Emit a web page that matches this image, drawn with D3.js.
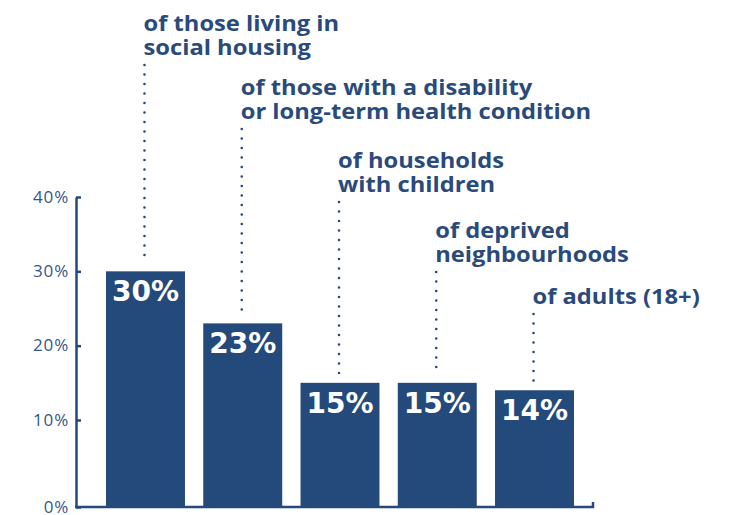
<!DOCTYPE html>
<html>
<head>
<meta charset="utf-8">
<script src="https://cdn.jsdelivr.net/npm/d3@7"></script>
<style>
  body { margin: 0; background: #fff; }
  svg { display: block; }
</style>
</head>
<body>
<script>
// data
const categories = ['social', 'disability', 'children', 'deprived', 'adults'];
const values = [30, 23, 15, 15, 14];
const labels = [
  ['of those living in', 'social housing'],
  ['of those with a disability', 'or long-term health condition'],
  ['of households', 'with children'],
  ['of deprived', 'neighbourhoods'],
  ['of adults (18+)'],
];
const yTicks = [0, 10, 20, 30, 40];

// annotation first-line baselines (layout)
const labelTop = [31, 95, 168, 238, 304];

const blue = '#244a7b';
const textBlue = '#2a4a7b';

const width = 738, height = 515;

const svg = d3.select('body').append('svg')
  .attr('width', width)
  .attr('height', height);

// set the ranges
const x = d3.scaleBand()
  .domain(categories)
  .range([106, 574])
  .paddingInner(0.188)
  .paddingOuter(0);

// the printed axis sits a little below its zero
const y = d3.scaleLinear()
  .domain([0, 10, 40])
  .range([507, 420, 197]);

// bars
svg.selectAll('rect.bar')
  .data(values)
  .enter().append('rect')
  .attr('class', 'bar')
  .attr('x', (d, i) => x(categories[i]))
  .attr('y', d => y(d))
  .attr('width', x.bandwidth())
  .attr('height', d => y(0) - y(d))
  .attr('fill', blue);

// value labels
svg.selectAll('text.val')
  .data(values)
  .enter().append('text')
  .attr('class', 'val')
  .attr('x', (d, i) => x(categories[i]) + x.bandwidth() / 2)
  .attr('y', d => y(d) + 30)
  .attr('text-anchor', 'middle')
  .style('font-family', 'DejaVu Sans')
  .style('font-weight', 'bold')
  .style('font-size', '28px')
  .style('fill', '#fff')
  .text(d => d + '%');

// annotations with dotted leaders
values.forEach((v, i) => {
  const cx = x(categories[i]) + x.bandwidth() / 2;
  const lines = labels[i];
  const lastBase = labelTop[i] + (lines.length - 1) * 24;

  const t = svg.append('text')
    .attr('transform', `translate(${cx - 2},${labelTop[i]}) scale(1.13,1)`)
    .style('font-family', 'Open Sans')
    .style('font-weight', 700)
    .style('font-size', '21px')
    .style('fill', textBlue);
  lines.forEach((l, j) => {
    t.append('tspan')
      .attr('x', 0)
      .attr('y', j * 24)
      .text(l);
  });

  svg.append('line')
    .attr('x1', cx - 1).attr('x2', cx - 1)
    .attr('y1', lastBase + 10)
    .attr('y2', y(v) - 8)
    .attr('stroke', blue)
    .attr('stroke-width', 2.6)
    .attr('stroke-linecap', 'round')
    .attr('stroke-dasharray', '0 9.5');
});

// Add the Y Axis
const yAxis = svg.append('g')
  .attr('transform', 'translate(76,0)')
  .call(d3.axisLeft(y)
    .tickValues(yTicks)
    .tickSize(-5)
    .tickSizeOuter(0)
    .tickPadding(7)
    .tickFormat(d => d + '%'));
yAxis.select('.domain').attr('stroke', blue).attr('stroke-width', 2.5);
yAxis.selectAll('.tick line').attr('stroke', blue).attr('stroke-width', 2.5);
yAxis.selectAll('.tick text')
  .attr('dy', '0.3em')
  .style('font-family', 'Open Sans')
  .style('font-size', '17px')
  .style('letter-spacing', '0.8px')
  .style('fill', '#34568a');

// bottom axis line
const xEnd = x.range()[1] + 19;
svg.append('path')
  .attr('d', `M75,${y(0)}H${xEnd}V${y(0) - 5}`)
  .attr('fill', 'none')
  .attr('stroke', blue)
  .attr('stroke-width', 2.5);
</script>
</body>
</html>
